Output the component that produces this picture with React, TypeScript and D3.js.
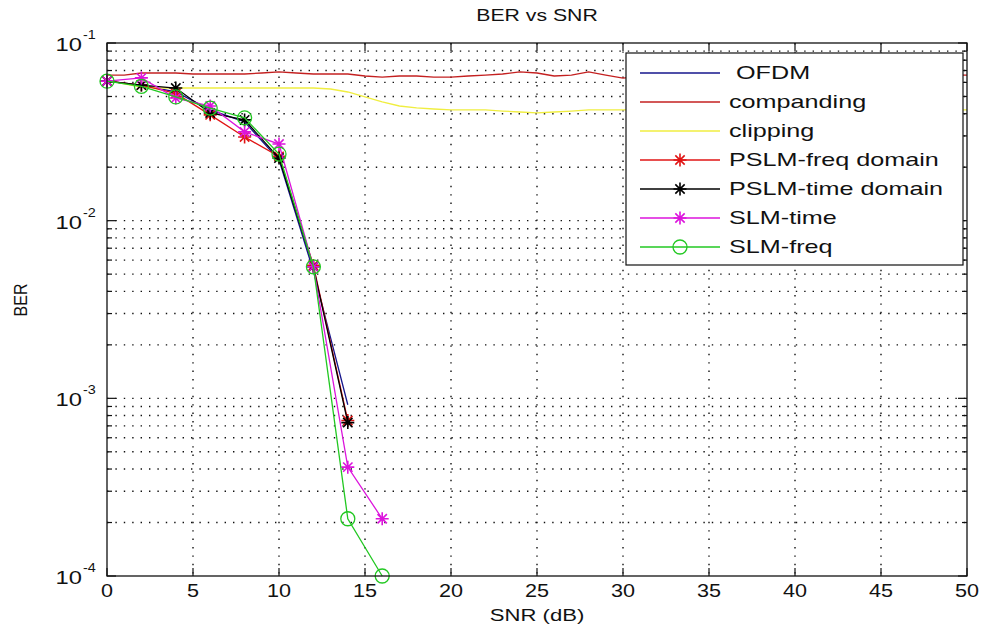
import * as d3 from 'd3';

// BER vs SNR
const snrMarked = [0, 2, 4, 6, 8, 10, 12, 14];
const snrMarkedLong = [0, 2, 4, 6, 8, 10, 12, 14, 16];
const snrDense = d3.range(0, 51);

const ofdm = [0.061, 0.058, 0.053, 0.042, 0.036, 0.022, 0.0052, 0.00092];
const pslmFreq = [0.061, 0.058, 0.052, 0.0394, 0.0296, 0.023, 0.0056, 0.00075];
const pslmTime = [0.061, 0.058, 0.0558, 0.0404, 0.0369, 0.0225, 0.0055, 0.00073];
const slmTime = [0.061, 0.0636, 0.049, 0.0442, 0.0316, 0.027, 0.0055, 0.00041, 0.00021];
const slmFreq = [0.061, 0.057, 0.0497, 0.043, 0.0379, 0.0237, 0.0055, 0.00021, 0.0001];

const companding = [
  0.066, 0.066, 0.0678, 0.0678, 0.0678, 0.0669, 0.0669, 0.0669, 0.0669, 0.0678,
  0.0687, 0.0678, 0.0669, 0.0669, 0.0669, 0.0652, 0.0643, 0.0652, 0.0652, 0.0643,
  0.0643, 0.0652, 0.066, 0.0669, 0.0687, 0.0678, 0.0652, 0.066, 0.0687, 0.066,
  0.0635, 0.065, 0.066, 0.0665, 0.066, 0.0655, 0.066, 0.0668, 0.066, 0.0652,
  0.066, 0.0665, 0.066, 0.0655, 0.066, 0.0662, 0.066, 0.0655, 0.066, 0.0662, 0.066,
];
const clipping = [
  0.0619, 0.0588, 0.0565, 0.0558, 0.0558, 0.0558, 0.0558, 0.0558, 0.0558, 0.0558,
  0.0558, 0.0558, 0.0558, 0.0551, 0.053, 0.0497, 0.0466, 0.0442, 0.0431, 0.0425,
  0.042, 0.042, 0.042, 0.0414, 0.0409, 0.0404, 0.0409, 0.0414, 0.042, 0.042,
  0.042, 0.042, 0.0418, 0.0416, 0.0418, 0.042, 0.042, 0.0418, 0.0416, 0.0418,
  0.042, 0.042, 0.0418, 0.0418, 0.042, 0.042, 0.0418, 0.0416, 0.0418, 0.042, 0.042,
];

const xTicks = [0, 5, 10, 15, 20, 25, 30, 35, 40, 45, 50];
const decades = [-4, -3, -2, -1];

type Series = { name: string; xs: number[]; ys: number[]; color: string; marker: 'none' | 'star' | 'circle' };
const series: Series[] = [
  { name: ' OFDM', xs: snrMarked, ys: ofdm, color: '#16168c', marker: 'none' },
  { name: 'companding', xs: snrDense, ys: companding, color: '#c42020', marker: 'none' },
  { name: 'clipping', xs: snrDense, ys: clipping, color: '#f0ee40', marker: 'none' },
  { name: 'PSLM-freq domain', xs: snrMarked, ys: pslmFreq, color: '#e01414', marker: 'star' },
  { name: 'PSLM-time domain', xs: snrMarked, ys: pslmTime, color: '#000000', marker: 'star' },
  { name: 'SLM-time', xs: snrMarkedLong, ys: slmTime, color: '#dc14dc', marker: 'star' },
  { name: 'SLM-freq', xs: snrMarkedLong, ys: slmFreq, color: '#22c822', marker: 'circle' },
];

const W = 992;
const H = 635;
const left = 107, right = 967, top = 43, bottom = 576;
const x = d3.scaleLinear().domain([0, 50]).range([left, right]);
const y = d3.scaleLog().domain([1e-4, 1e-1]).range([bottom, top]);

const FONT = 'Arial, "Liberation Sans", Helvetica, sans-serif';

function starPath(r: number) {
  const k = r * 0.72;
  return `M${-r},0H${r}M0,${-r}V${r}M${-k},${-k}L${k},${k}M${-k},${k}L${k},${-k}`;
}

function Marker({ kind, cx, cy, color }: { kind: string; cx: number; cy: number; color: string }) {
  if (kind === 'star')
    return <path d={starPath(6.5)} transform={`translate(${cx},${cy})`} stroke={color} strokeWidth={1.6} fill="none" />;
  if (kind === 'circle')
    return <circle cx={cx} cy={cy} r={7} stroke={color} strokeWidth={1.3} fill="none" />;
  return null;
}

function SText({ x0, y0, sx = 1.3, size = 17, anchor = 'middle', children }: any) {
  return (
    <text
      transform={`translate(${x0},${y0}) scale(${sx},1)`}
      fontSize={size}
      fontFamily={FONT}
      textAnchor={anchor}
      fill="#111"
      style={{ whiteSpace: 'pre' }}
    >
      {children}
    </text>
  );
}

export default function App() {
  const minor: number[] = [];
  decades.forEach((e) => {
    if (e < -1) for (let m = 1; m <= 9; m++) minor.push(m * Math.pow(10, e));
  });
  minor.push(0.1);

  const line = (xs: number[]) =>
    d3
      .line<number>()
      .x((_, i) => x(xs[i]))
      .y((v) => y(v));

  const legendRows = d3.scalePoint<string>().domain(series.map((s) => s.name)).range([73, 247]);

  return (
    <div style={{ position: 'absolute', left: 0, top: 0, background: '#fff' }}>
      <svg width={W} height={H} style={{ display: 'block' }}>
        <rect width={W} height={H} fill="#fff" />
        {/* grid */}
        <g stroke="#111" strokeWidth={1.4} strokeDasharray="1.4 7">
          {xTicks.slice(1, -1).map((t) => (
            <line key={'gx' + t} x1={x(t)} x2={x(t)} y1={top} y2={bottom} />
          ))}
          {minor.filter((v) => v > 1e-4 && v < 0.1).map((v) => (
            <line key={'gy' + v} x1={left} x2={right} y1={y(v)} y2={y(v)} />
          ))}
        </g>
        {/* ticks */}
        <g stroke="#111" strokeWidth={1.2}>
          {xTicks.map((t) => (
            <g key={'tx' + t}>
              <line x1={x(t)} x2={x(t)} y1={bottom} y2={bottom - 8} />
              <line x1={x(t)} x2={x(t)} y1={top} y2={top + 8} />
            </g>
          ))}
          {minor.map((v) => {
            const major = Math.abs(Math.log10(v) - Math.round(Math.log10(v))) < 1e-9;
            const len = major ? 9 : 5;
            return (
              <g key={'ty' + v}>
                <line x1={left} x2={left + len} y1={y(v)} y2={y(v)} />
                <line x1={right} x2={right - len} y1={y(v)} y2={y(v)} />
              </g>
            );
          })}
        </g>
        {/* series */}
        {series.map((s) => (
          <g key={s.name}>
            <path d={line(s.xs)(s.ys) || ''} fill="none" stroke={s.color} strokeWidth={1.3} />
            {s.marker !== 'none' &&
              s.ys.map((v, i) => <Marker key={i} kind={s.marker} cx={x(s.xs[i])} cy={y(v)} color={s.color} />)}
          </g>
        ))}
        {/* axes box */}
        <rect x={left} y={top} width={right - left} height={bottom - top} fill="none" stroke="#111" strokeWidth={1.3} />
        {/* x tick labels */}
        {xTicks.map((t) => (
          <SText key={'lx' + t} x0={x(t)} y0={597} size={18} sx={1.2}>
            {t}
          </SText>
        ))}
        {/* y tick labels */}
        {decades.map((e) => {
          const yy = y(Math.pow(10, e));
          return (
            <g key={'ly' + e}>
              <SText x0={82} y0={yy + 8} size={19} sx={1.25} anchor="end">
                10
              </SText>
              <SText x0={83} y0={yy - 4} size={12} sx={1.2} anchor="start">
                {String(e)}
              </SText>
            </g>
          );
        })}
        {/* titles */}
        <SText x0={537} y0={21} size={17} sx={1.25}>
          BER vs SNR
        </SText>
        <SText x0={537} y0={621} size={17} sx={1.3}>
          SNR (dB)
        </SText>
        <text
          transform="translate(27,300) rotate(-90) scale(1,1.2)"
          fontSize={16}
          fontFamily={FONT}
          textAnchor="middle"
          fill="#111"
        >
          BER
        </text>
        {/* legend */}
        <rect x={626} y={53} width={337} height={212} fill="#fff" stroke="#111" strokeWidth={1.2} />
        {series.map((s) => {
          const ry = legendRows(s.name) as number;
          return (
            <g key={'lg' + s.name}>
              <line x1={640} x2={720} y1={ry} y2={ry} stroke={s.color} strokeWidth={s.name === 'clipping' ? 1.6 : 1.3} />
              <Marker kind={s.marker} cx={680} cy={ry} color={s.color} />
              <SText x0={729} y0={ry + 6} size={18} sx={1.4} anchor="start">
                {s.name}
              </SText>
            </g>
          );
        })}
      </svg>
    </div>
  );
}
